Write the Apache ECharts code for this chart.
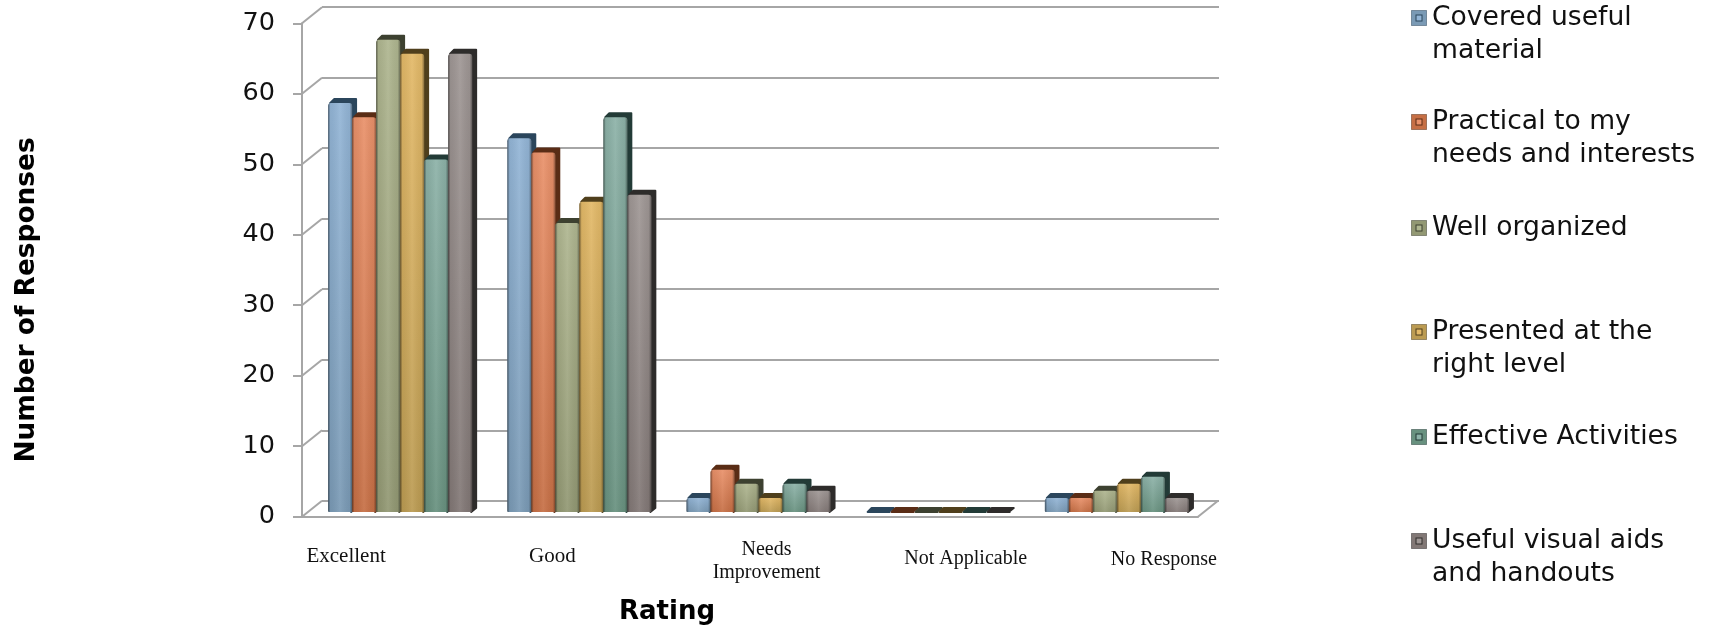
<!DOCTYPE html>
<html>
<head>
<meta charset="utf-8">
<title>Ratings</title>
<script src="https://cdn.jsdelivr.net/npm/echarts@6/dist/echarts.min.js"></script>
<style>
	html, body { margin: 0; padding: 0; background: #fff; }
	#main { width: 1711px; height: 627px; }
</style>
</head>
<body>
<div id="main"></div>
<script>
//chart data
var categories = ['Excellent', 'Good', 'Needs\nImprovement', 'Not Applicable', 'No Response'];
var coveredUseful = [58, 53, 2, 0, 2];
var practical = [56, 51, 6, 0, 2];
var wellOrganized = [67, 41, 4, 0, 3];
var rightLevel = [65, 44, 2, 0, 4];
var effective = [50, 56, 4, 0, 5];
var visualAids = [65, 45, 3, 0, 2];
var wallTicks = [0, 10, 20, 30, 40, 50, 60, 70];

var seriesNames = ['Covered useful material', 'Practical to my needs and interests', 'Well organized', 'Presented at the right level', 'Effective Activities', 'Useful visual aids and handouts'];
var seriesValues = [coveredUseful, practical, wellOrganized, rightLevel, effective, visualAids];
var legendText = ['\nCovered useful\nmaterial', '\nPractical to my\nneeds and interests', 'Well organized', '\nPresented at the\nright level', 'Effective Activities', '\nUseful visual aids\nand handouts'];

//styles: light end, dark end, side face
var lightColors = ['#93b5d6', '#e9916a', '#afb690', '#e3b968', '#8db2a8', '#9f9795'];
var darkColors = ['#7a9ab5', '#c66f45', '#929873', '#bb9b52', '#68917f', '#827876'];
var sideColors = ['#2b465c', '#5a2d16', '#3d4130', '#4f3f1c', '#233b37', '#2e2c2b'];

//layout
var legendCenters = [18, 122, 228, 332, 437, 541];
var labelShift = [-54, -27, 8, 28, 47];
var labelDrop = [14, 14, 0, 18, 21];
var labelSizes = [21, 21, 20, 20, 20];
var depthX = 20, depthY = -16;
var barDepthX = 4, barDepthY = -4;

var myChart = echarts.init(document.getElementById('main'));

//small square of the legend, as the original has it
function legendIcon(i) {
	var svg = '<svg xmlns="http://www.w3.org/2000/svg" width="16" height="16">'
		+ '<rect x="0.5" y="0.5" width="15" height="15" fill="' + darkColors[i] + '" stroke="' + sideColors[i] + '" stroke-opacity="0.5"/>'
		+ '<rect x="5" y="5" width="6" height="6" fill="' + lightColors[i] + '" stroke="' + sideColors[i] + '"/>'
		+ '</svg>';
	return 'image://data:image/svg+xml;charset=utf-8,' + encodeURIComponent(svg);
}

//one legend per entry because the gaps are not even
function buildLegends() {
	var list = [];
	for (var i = 0; i < seriesNames.length; i++) {
		var wrapped = legendText[i].charAt(0) == '\n';
		list.push({
			show: true,
			orient: 'vertical',
			left: 1411,
			top: legendCenters[i] - (wrapped ? 49.5 : 16.5),
			padding: 0,
			itemWidth: 16,
			itemHeight: 16,
			selectedMode: false,
			data: [{ name: seriesNames[i], icon: legendIcon(i) }],
			formatter: (function (text) {
				return function () { return text; };
			})(legendText[i]),
			textStyle: {
				fontFamily: 'DejaVu Sans',
				fontSize: 26.6,
				lineHeight: 33,
				color: '#111'
			}
		});
	}
	return list;
}

//bar with a front, a side and a top face
function renderBar(seriesIndex) {
	return function (params, api) {
		var cat = api.value(0);
		var base = api.coord([cat, 0]);
		var top = api.coord([cat, api.value(1)]);
		var band = api.size([1, 0])[0];
		var w = band * 0.134;
		var x = base[0] - 3 * w + seriesIndex * w;
		var h = base[1] - top[1];
		var children = [];
		children.push({
			type: 'polygon',
			shape: { points: [[x + 2, top[1]], [x + barDepthX + 2, top[1] + barDepthY], [x + w + barDepthX, top[1] + barDepthY], [x + w + barDepthX, base[1] + barDepthY], [x + w - 1, base[1]], [x + w, top[1]]] },
			style: { fill: sideColors[seriesIndex], stroke: sideColors[seriesIndex], lineWidth: 2, lineJoin: 'round' }
		});
		if (h > 0) {
			children.push({
				type: 'rect',
				shape: { x: x, y: top[1], width: w, height: h, r: [3, 3, 1, 1] },
				style: {
					fill: new echarts.graphic.LinearGradient(0, 0, 0, 1, [
						{ offset: 0, color: lightColors[seriesIndex] },
						{ offset: 1, color: darkColors[seriesIndex] }
					])
				}
			});
			children.push({
				type: 'rect',
				shape: { x: x, y: top[1], width: w, height: h, r: [3, 3, 1, 1] },
				style: {
					fill: new echarts.graphic.LinearGradient(0, 0, 1, 0, [
						{ offset: 0, color: 'rgba(0,0,0,0.5)' },
						{ offset: 0.1, color: 'rgba(0,0,0,0.05)' },
						{ offset: 0.5, color: 'rgba(255,255,255,0.08)' },
						{ offset: 0.9, color: 'rgba(0,0,0,0.05)' },
						{ offset: 1, color: 'rgba(0,0,0,0.4)' }
					])
				}
			});
		}
		return { type: 'group', children: children };
	};
}

//diagonals of the left wall and of the floor
function renderWall(params, api) {
	var y = api.coord([0, api.value(0)])[1];
	var left = params.coordSys.x;
	var lines = [{
		type: 'line',
		shape: { x1: left, y1: y, x2: left + depthX, y2: y + depthY },
		style: { stroke: '#a6a6a6', lineWidth: 2 }
	}];
	if (api.value(0) == 0) {
		var right = left + params.coordSys.width;
		lines.push({
			type: 'line',
			shape: { x1: right, y1: y, x2: right + depthX, y2: y + depthY },
			style: { stroke: '#a6a6a6', lineWidth: 2 }
		});
	}
	return { type: 'group', children: lines };
}

function buildRich() {
	var rich = {};
	for (var i = 0; i < categories.length; i++) {
		var dx = labelShift[i] * 2;
		rich['c' + i] = {
			fontFamily: 'Liberation Serif',
			fontSize: labelSizes[i],
			color: '#111',
			lineHeight: 23,
			padding: [labelDrop[i], dx < 0 ? -dx : 0, 0, dx > 0 ? dx : 0]
		};
	}
	return rich;
}

var seriesList = [{
	name: 'walls',
	type: 'custom',
	xAxisIndex: 1,
	yAxisIndex: 1,
	silent: true,
	z: 1,
	data: wallTicks.map(function (t) { return [t]; }),
	encode: { y: 0 },
	renderItem: renderWall
}];
for (var s = 0; s < seriesNames.length; s++) {
	seriesList.push({
		name: seriesNames[s],
		type: 'custom',
		xAxisIndex: 2,
		yAxisIndex: 2,
		z: 3,
		itemStyle: { color: darkColors[s] },
		encode: { x: 0, y: 1 },
		data: seriesValues[s].map(function (v, i) { return [i, v]; }),
		renderItem: renderBar(s)
	});
}

myChart.setOption({
	animation: false,
	backgroundColor: '#fff',
	legend: buildLegends(),
	//the first two labels are cut off at the bottom in the original
	graphic: [{
		type: 'rect',
		z: 100,
		silent: true,
		shape: { x: 300, y: 562, width: 290, height: 7 },
		style: { fill: '#fff' }
	}],
	grid: [
		{ left: 322, top: 6.7, width: 897, height: 494.3, outerBoundsMode: 'none' },
		{ left: 302, top: 23.3, width: 896, height: 493.4, outerBoundsMode: 'none' },
		{ left: 310.5, top: 18.5, width: 896, height: 493.5, outerBoundsMode: 'none' }
	],
	xAxis: [
		{ gridIndex: 0, type: 'category', data: categories, axisLine: { show: false }, axisTick: { show: false }, axisLabel: { show: false } },
		{ gridIndex: 1, type: 'category', data: categories, axisLine: { lineStyle: { color: '#a6a6a6', width: 2 } }, axisTick: { show: false }, axisLabel: { show: false } },
		{
			gridIndex: 2,
			type: 'category',
			data: categories,
			name: 'Rating',
			nameLocation: 'middle',
			nameGap: 87,
			nameTextStyle: { fontFamily: 'DejaVu Sans', fontWeight: 'bold', fontSize: 26, color: '#000', padding: [0, 183, 0, 0] },
			axisLine: { show: false },
			axisTick: { show: false },
			axisLabel: {
				interval: 0,
				margin: 26,
				formatter: function (value, index) {
					return value.split('\n').map(function (line) {
						return '{c' + index + '|' + line + '}';
					}).join('\n');
				},
				rich: buildRich()
			}
		}
	],
	yAxis: [
		{ gridIndex: 0, type: 'value', min: 0, max: 70, interval: 10, axisLine: { show: false }, axisTick: { show: false }, axisLabel: { show: false }, splitLine: { show: true, lineStyle: { color: '#a6a6a6', width: 2 } } },
		{
			gridIndex: 1,
			type: 'value',
			min: 0,
			max: 70,
			interval: 10,
			name: 'Number of Responses',
			nameLocation: 'middle',
			nameGap: 262,
			nameTextStyle: { fontFamily: 'DejaVu Sans', fontWeight: 'bold', fontSize: 26.4, color: '#000', padding: [0, 60, 0, 0] },
			axisLine: { show: true, lineStyle: { color: '#a6a6a6', width: 2 } },
			axisTick: { show: true, length: 9, lineStyle: { color: '#a6a6a6', width: 2 } },
			axisLabel: { fontFamily: 'DejaVu Sans', fontSize: 25.5, color: '#111', margin: 27, padding: [6, 0, 0, 0] },
			splitLine: { show: false }
		},
		{ gridIndex: 2, type: 'value', min: 0, max: 70, interval: 10, axisLine: { show: false }, axisTick: { show: false }, axisLabel: { show: false }, splitLine: { show: false } }
	],
	series: seriesList
});
</script>
</body>
</html>
